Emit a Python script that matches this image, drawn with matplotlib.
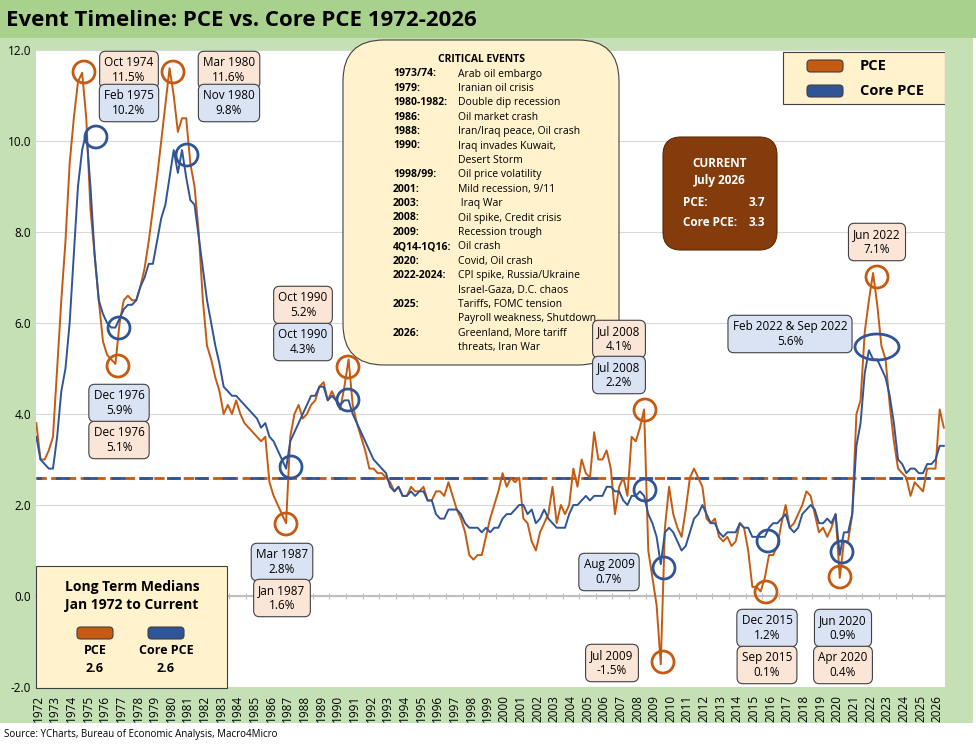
import matplotlib
matplotlib.use("Agg")
import matplotlib.pyplot as plt
import numpy as np
from matplotlib.patches import FancyBboxPatch, Ellipse, Rectangle
import matplotlib.transforms as mtrans

plt.rcParams['font.family'] = ['Open Sans', 'DejaVu Sans']

years = list(range(1972, 2027))
pce = [3.8,3.0,3.0,3.2, 3.5,5.0,6.5,7.8, 9.5,10.5,11.3,11.5, 10.5,8.5,7.5,6.5,
       5.6,5.3,5.2,5.1, 6.0,6.5,6.6,6.5, 6.5,6.8,7.2,7.8, 8.5,9.2,10.0,10.8,
       11.6,11.0,10.2,10.5, 10.5,9.5,9.0,8.0, 6.5,5.5,5.2,4.8, 4.5,4.0,4.2,4.0,
       4.3,4.0,3.8,3.7, 3.6,3.5,3.4,3.5, 2.5,2.2,2.0,1.8, 1.6,3.5,4.0,4.2,
       3.9,4.0,4.2,4.3, 4.6,4.7,4.3,4.5, 4.3,4.1,4.6,5.2, 4.2,3.8,3.5,3.2,
       2.8,2.8,2.7,2.7, 2.6,2.5,2.3,2.4, 2.2,2.2,2.4,2.3, 2.3,2.4,2.1,2.1,
       2.3,2.3,2.2,2.5, 2.2,1.9,1.7,1.4, 0.9,0.8,0.9,0.9, 1.3,1.7,2.0,2.3,
       2.7,2.4,2.6,2.5, 2.6,1.7,1.6,1.2, 1.0,1.4,1.6,1.8, 2.4,1.6,2.0,1.8,
       2.0,2.8,2.4,3.0, 2.7,2.6,3.6,3.0, 3.0,3.2,2.8,1.8, 2.4,2.6,2.2,3.5,
       3.4,3.7,4.1,1.0, 0.4,-0.2,-1.5,1.5, 2.4,1.8,1.5,1.3, 1.9,2.6,2.8,2.6,
       2.4,1.7,1.6,1.7, 1.3,1.2,1.3,1.1, 1.2,1.6,1.5,1.0, 0.2,0.2,0.1,0.4,
       0.9,0.9,1.1,1.6, 2.0,1.5,1.6,1.8, 2.0,2.3,2.2,1.8, 1.4,1.5,1.3,1.5,
       1.8,0.4,1.2,1.2, 1.8,4.0,4.3,5.8, 6.5,7.1,6.4,5.5, 5.2,4.2,3.4,2.8,
       2.7,2.6,2.2,2.5, 2.4,2.3,2.8,2.8, 2.8,4.1,3.7]
core = [3.5,3.0,2.9,2.8, 2.8,3.5,4.5,5.0, 6.0,7.5,9.0,9.8, 10.2,9.0,7.5,6.5,
        6.2,6.0,5.9,5.9, 6.1,6.3,6.4,6.4, 6.5,6.8,7.0,7.3, 7.3,7.8,8.3,8.6,
        9.2,9.8,9.3,9.8, 9.2,8.7,8.6,7.9, 7.2,6.5,6.0,5.5, 5.1,4.6,4.5,4.4,
        4.4,4.3,4.2,4.1, 4.0,3.9,3.7,3.8, 3.5,3.4,3.2,3.0, 2.8,3.4,3.6,3.8,
        4.0,4.2,4.4,4.4, 4.6,4.6,4.3,4.4, 4.3,4.2,4.3,4.3, 4.0,3.8,3.6,3.4,
        3.2,3.0,2.9,2.8, 2.7,2.4,2.3,2.4, 2.2,2.2,2.3,2.2, 2.3,2.3,2.1,2.1,
        1.8,1.7,1.7,1.9, 1.9,1.9,1.8,1.6, 1.5,1.5,1.5,1.4, 1.5,1.4,1.5,1.5,
        1.7,1.8,1.8,1.9, 2.0,2.0,1.8,1.9, 1.6,1.7,1.9,1.7, 1.6,1.5,1.5,1.5,
        1.8,2.0,2.0,2.1, 2.2,2.1,2.2,2.2, 2.2,2.4,2.4,2.3, 2.3,2.1,2.0,2.2,
        2.2,2.3,2.2,1.8, 1.6,1.3,0.7,1.4, 1.5,1.4,1.2,1.0, 1.1,1.4,1.7,1.8,
        2.0,1.8,1.6,1.6, 1.4,1.3,1.4,1.4, 1.4,1.6,1.5,1.5, 1.3,1.3,1.3,1.3,
        1.5,1.6,1.6,1.7, 1.8,1.5,1.4,1.5, 1.8,1.9,2.0,1.9, 1.6,1.6,1.7,1.6,
        1.8,0.9,1.4,1.4, 1.8,3.3,3.8,4.9, 5.4,5.2,5.2,5.0, 4.8,4.4,3.8,3.0,
        2.9,2.7,2.8,2.8, 2.7,2.7,2.9,2.9, 3.0,3.3,3.3]
t = 1972.4 + np.arange(len(pce)) * 0.25
pce_median, core_median = 2.6, 2.6
ORG, BLU = '#c55a11', '#2f5597'
W, H = 976, 748

fig = plt.figure(figsize=(9.76, 7.48), dpi=100)
fig.patch.set_facecolor('white')
fig.add_artist(Rectangle((0, 1 - 723 / H), 973 / W, (723 - 38) / H, transform=fig.transFigure,
                         fc='#c5e0b4', ec='none', zorder=0))
fig.add_artist(Rectangle((0, 1 - 38 / H), 1, 38 / H, transform=fig.transFigure,
                         fc='#a9d18e', ec='none', zorder=0))

ax = fig.add_axes([36 / W, 1 - 687 / H, 909 / W, 637 / H])
ax.set_facecolor('white')
ax.plot(t, pce, color=ORG, lw=1.4, zorder=3)
ax.plot(t, core, color=BLU, lw=1.4, zorder=4)
ax.axhline(pce_median, color=ORG, ls='--', lw=2, zorder=2)
ax.axhline(core_median, color=BLU, ls=(3, (5, 5)), lw=2, zorder=2)
ax.set_xlim(1972.38, 2026.97)
ax.set_ylim(-2, 12)
yt = np.arange(-2, 12.1, 2)
ax.set_yticks(yt)
ax.set_yticklabels([f'{v:.1f}' for v in yt], fontsize=8.5)
ax.grid(axis='y', color='#d9d9d9', lw=0.8)
ax.set_axisbelow(True)
for s in ['top', 'right', 'left']:
    ax.spines[s].set_visible(False)
ax.spines['bottom'].set_position(('data', 0))
ax.spines['bottom'].set_color('#bfbfbf')
ax.spines['bottom'].set_linewidth(1.5)
ax.set_xticks(years[1:])
ax.set_xticklabels([])
ax.tick_params(axis='x', direction='inout', length=5, color='#bfbfbf')
ax.tick_params(axis='y', length=0)
tr = mtrans.blended_transform_factory(ax.transData, ax.transAxes)
for y in years:
    ax.text(y + 0.5, -0.012, str(y), transform=tr, rotation=90, fontsize=8.5,
            ha='center', va='top', clip_on=False)

fig.text(6 / W, 1 - 20 / H, 'Event Timeline: PCE vs. Core PCE 1972-2026', fontsize=16,
         fontweight='bold', va='center')
fig.text(4 / W, 1 - 735 / H, 'Source: YCharts, Bureau of Economic Analysis, Macro4Micro',
         fontsize=7, va='center')

def P(px, py):
    return ((px - 36) / 909, (687 - py) / 637)

def lab(px, py, s, fc):
    ax.text(*P(px, py), s, transform=ax.transAxes, ha='center', va='center', fontsize=8.5,
            zorder=8, bbox=dict(boxstyle='round,pad=0.4,rounding_size=0.5', fc=fc,
                                ec='#404040', lw=0.8))

PK, BL = '#fbe5d6', '#dae3f3'
labels = [(129, 70, 'Oct 1974\n11.5%', PK), (129, 103, 'Feb 1975\n10.2%', BL),
          (229, 70, 'Mar 1980\n11.6%', PK), (229, 103, 'Nov 1980\n9.8%', BL),
          (119, 403, 'Dec 1976\n5.9%', BL), (119, 440, 'Dec 1976\n5.1%', PK),
          (303, 305, 'Oct 1990\n5.2%', PK), (303, 342, 'Oct 1990\n4.3%', BL),
          (282, 562, 'Mar 1987\n2.8%', BL), (282, 598, 'Jan 1987\n1.6%', PK),
          (619, 339, 'Jul 2008\n4.1%', PK), (619, 375, 'Jul 2008\n2.2%', BL),
          (609, 572, 'Aug 2009\n0.7%', BL), (612, 663, 'Jul 2009\n-1.5%', PK),
          (767, 628, 'Dec 2015\n1.2%', BL), (767, 665, 'Sep 2015\n0.1%', PK),
          (843, 628, 'Jun 2020\n0.9%', BL), (843, 665, 'Apr 2020\n0.4%', PK),
          (877, 242, 'Jun 2022\n7.1%', PK), (790, 334, 'Feb 2022 & Sep 2022\n5.6%', BL)]
for px, py, s, fc in labels:
    lab(px, py, s, fc)

circ = [(84, 72, ORG, 22), (96, 137, BLU, 22), (173, 72, ORG, 22), (187, 155, BLU, 22),
        (119, 328, BLU, 22), (118, 366, ORG, 22), (348, 367, ORG, 22), (348, 400, BLU, 22),
        (291, 467, BLU, 22), (286, 524, ORG, 22), (645, 410, ORG, 22), (645, 490, BLU, 22),
        (664, 568, BLU, 22), (663, 662, ORG, 22), (768, 541, BLU, 22), (766, 592, ORG, 22),
        (842, 552, BLU, 22), (840, 577, ORG, 22), (877, 277, ORG, 22), (877, 347, BLU, 44)]
for px, py, c, w in circ:
    ax.add_patch(Ellipse(P(px, py), w / 909, (22 if w < 30 else 26) / 637,
                         transform=ax.transAxes, fill=False, ec=c, lw=2, zorder=7))

x0, y0 = P(343, 365); x1, y1 = P(619, 40)
ax.add_patch(FancyBboxPatch((x0, y0), x1 - x0, y1 - y0, boxstyle='round,pad=0,rounding_size=0.045',
             transform=ax.transAxes, fc='#fff2cc', ec='#404040', lw=0.8, zorder=5,
             mutation_aspect=909 / 637, clip_on=False))
ax.text(*P(482, 59), 'CRITICAL EVENTS', transform=ax.transAxes, fontsize=7.5,
        fontweight='bold', ha='center', va='center', zorder=6)
events = [('1973/74:', 'Arab oil embargo'), ('1979:', 'Iranian oil crisis'),
          ('1980-1982:', 'Double dip recession'), ('1986:', 'Oil market crash'),
          ('1988:', 'Iran/Iraq peace, Oil crash'), ('1990:', 'Iraq invades Kuwait,'),
          ('', 'Desert Storm'), ('1998/99:', 'Oil price volatility'),
          ('2001:', 'Mild recession, 9/11'), ('2003:', ' Iraq War'),
          ('2008:', 'Oil spike, Credit crisis'), ('2009:', 'Recession trough'),
          ('4Q14-1Q16:', 'Oil crash'), ('2020:', 'Covid, Oil crash'),
          ('2022-2024:', 'CPI spike, Russia/Ukraine'), ('', 'Israel-Gaza, D.C. chaos'),
          ('2025:', 'Tariffs, FOMC tension'), ('', 'Payroll weakness, Shutdown'),
          ('2026:', 'Greenland, More tariff'), ('', 'threats, Iran War')]
for i, (a, b) in enumerate(events):
    py = 74 + i * 14.4
    ax.text(*P(393, py), a, transform=ax.transAxes, fontsize=7.5, fontweight='bold',
            va='center', zorder=6)
    ax.text(*P(458, py), b, transform=ax.transAxes, fontsize=7.5, va='center', zorder=6)

x0, y0 = P(663, 250); x1, y1 = P(777, 137)
ax.add_patch(FancyBboxPatch((x0, y0), x1 - x0, y1 - y0, boxstyle='round,pad=0,rounding_size=0.02',
             transform=ax.transAxes, fc='#843c0c', ec='#5a2a08', lw=0.8, zorder=5,
             mutation_aspect=909 / 637))
ax.text(*P(720, 172), 'CURRENT\nJuly 2026', transform=ax.transAxes, color='white',
        fontsize=8.5, fontweight='bold', ha='center', va='center', zorder=6, linespacing=1.4)
for py, s, v in [(203, 'PCE:', pce[-1]), (222, 'Core PCE:', core[-1])]:
    ax.text(*P(683, py), s, transform=ax.transAxes, color='white', fontsize=8.5,
            fontweight='bold', va='center', zorder=6)
    ax.text(*P(765, py), f'{v:.1f}', transform=ax.transAxes, color='white', fontsize=8.5,
            fontweight='bold', va='center', ha='right', zorder=6)

def swatch(px, py, c, w=36, h=12):
    x0, y0 = P(px - w / 2, py + h / 2)
    ax.add_patch(FancyBboxPatch((x0, y0), w / 909, h / 637,
                 boxstyle='round,pad=0,rounding_size=0.004', transform=ax.transAxes,
                 fc=c, ec='#404040', lw=0.8, zorder=6, clip_on=False,
                 mutation_aspect=909 / 637))

x0, y0 = P(783, 104); x1, y1 = P(945, 52)
ax.add_patch(Rectangle((x0, y0), x1 - x0, y1 - y0, transform=ax.transAxes,
                       fc='#fff2cc', ec='#404040', lw=0.8, zorder=5))
for py, c, s in [(66, ORG, 'PCE'), (91, BLU, 'Core PCE')]:
    swatch(825, py, c)
    ax.text(*P(860, py), s, transform=ax.transAxes, fontsize=10.5, fontweight='bold',
            va='center', zorder=6)

x0, y0 = P(36, 688); x1, y1 = P(227, 566)
ax.add_patch(Rectangle((x0, y0), x1 - x0, y1 - y0, transform=ax.transAxes,
                       fc='#fff2cc', ec='#404040', lw=0.8, zorder=5, clip_on=False))
ax.text(*P(132, 596), 'Long Term Medians\nJan 1972 to Current', transform=ax.transAxes,
        fontsize=10, fontweight='bold', ha='center', va='center', zorder=6, linespacing=1.3)
for cx, c, s, v in [(95, ORG, 'PCE', pce_median), (166, BLU, 'Core PCE', core_median)]:
    swatch(cx, 633, c)
    ax.text(*P(cx, 659), f'{s}\n{v:.1f}', transform=ax.transAxes, fontsize=9,
            fontweight='bold', ha='center', va='center', zorder=6, linespacing=1.5)

fig.savefig('out.png', dpi=100, facecolor=fig.get_facecolor())
